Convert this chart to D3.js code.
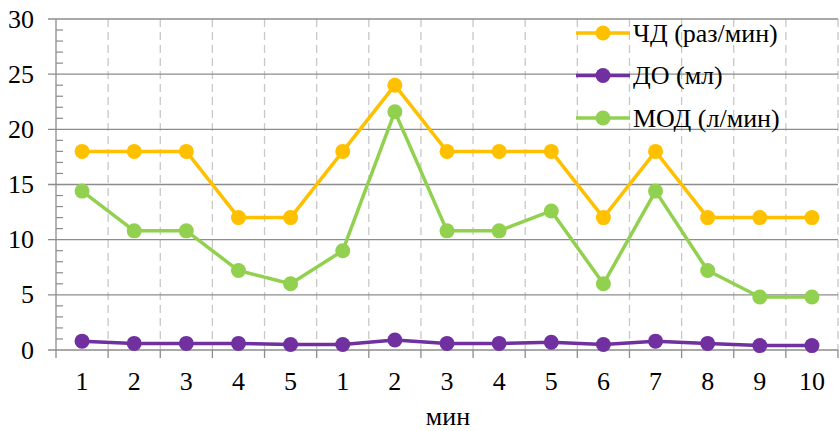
<!DOCTYPE html>
<html>
<head>
<meta charset="utf-8">
<script src="https://cdn.jsdelivr.net/npm/d3@7"></script>
<style>
  html, body { margin: 0; padding: 0; background: #fff; }
  svg { display: block; }
</style>
</head>
<body>
<svg id="chart" width="839" height="431"></svg>
<script>
// Minute labels along the x axis (two consecutive recording phases)
const categories = ["1", "2", "3", "4", "5", "1", "2", "3", "4", "5", "6", "7", "8", "9", "10"];

// Respiratory rate, breaths per minute
const rateValues = [18, 18, 18, 12, 12, 18, 24, 18, 18, 18, 12, 18, 12, 12, 12];
// Tidal volume
const tidalValues = [0.8, 0.6, 0.6, 0.6, 0.5, 0.5, 0.9, 0.6, 0.6, 0.7, 0.5, 0.8, 0.6, 0.4, 0.4];
// Minute ventilation, l/min
const minuteValues = [14.4, 10.8, 10.8, 7.2, 6.0, 9.0, 21.6, 10.8, 10.8, 12.6, 6.0, 14.4, 7.2, 4.8, 4.8];

const seriesNames = ["ЧД (раз/мин)", "ДО (мл)", "МОД (л/мин)"];
const seriesColors = ["#FFC000", "#7030A0", "#92D050"];
const yTicks = [0, 5, 10, 15, 20, 25, 30];
const xTitle = "мин";

const series = [
  { name: seriesNames[0], color: seriesColors[0], values: rateValues },
  { name: seriesNames[1], color: seriesColors[1], values: tidalValues },
  { name: seriesNames[2], color: seriesColors[2], values: minuteValues }
];

const FONT = "'Liberation Serif'";
const FS = 26;

const svg = d3.select("#chart");
const plotLeft = 56, plotRight = 838, plotTop = 19, plotBottom = 350;

const idx = d3.range(categories.length);
const x = d3.scaleBand().domain(idx).range([plotLeft, plotRight]).padding(0);
const xc = i => x(i) + x.bandwidth() / 2;
const xEdge = i => i < categories.length ? x(i) : plotRight;
const y = d3.scaleLinear().domain([0, 30]).range([plotBottom, plotTop]);

const label = sel => sel.style("font-family", FONT).attr("font-size", FS).attr("fill", "#000");

const grid = svg.append("g");

// dashed vertical lines between categories
grid.selectAll("line.v").data(d3.range(1, categories.length + 1)).enter()
  .append("line")
  .attr("x1", xEdge).attr("x2", xEdge)
  .attr("y1", plotTop).attr("y2", plotBottom)
  .attr("stroke", "#c8c8c8").attr("stroke-width", 1.3)
  .attr("stroke-dasharray", "8,5");

// major horizontal gridlines with outward ticks
grid.selectAll("line.h").data(yTicks).enter()
  .append("line")
  .attr("x1", plotLeft - 8).attr("x2", plotRight)
  .attr("y1", d => y(d)).attr("y2", d => y(d))
  .attr("stroke", "#8c8c8c").attr("stroke-width", 1.3);

// minor ticks on the value axis
grid.selectAll("line.m").data(d3.range(0, 31).filter(d => d % 5 !== 0)).enter()
  .append("line")
  .attr("x1", plotLeft).attr("x2", plotLeft + 7)
  .attr("y1", d => y(d)).attr("y2", d => y(d))
  .attr("stroke", "#8c8c8c").attr("stroke-width", 1.2);

// value axis line
grid.append("line")
  .attr("x1", plotLeft).attr("x2", plotLeft).attr("y1", plotTop).attr("y2", plotBottom)
  .attr("stroke", "#8c8c8c").attr("stroke-width", 1.3);

// category ticks below the axis
grid.selectAll("line.xt").data(d3.range(0, categories.length + 1)).enter()
  .append("line")
  .attr("x1", xEdge).attr("x2", xEdge)
  .attr("y1", plotBottom).attr("y2", plotBottom + 8)
  .attr("stroke", "#8c8c8c").attr("stroke-width", 1.3);

// y tick labels
svg.append("g").selectAll("text").data(yTicks).enter()
  .append("text")
  .attr("x", 34).attr("y", d => y(d))
  .attr("dy", "0.33em")
  .attr("text-anchor", "end")
  .call(label)
  .text(d => d);

// x tick labels
svg.append("g").selectAll("text").data(idx).enter()
  .append("text")
  .attr("x", i => xc(i)).attr("y", 390)
  .attr("text-anchor", "middle")
  .call(label)
  .text(i => categories[i]);

// x axis title
svg.append("text")
  .attr("x", 448).attr("y", 425)
  .attr("text-anchor", "middle")
  .call(label)
  .text(xTitle);

// series lines and markers
const line = d3.line().x((d, i) => xc(i)).y(d => y(d));
series.forEach(s => {
  const g = svg.append("g");
  g.append("path")
    .attr("d", line(s.values))
    .attr("fill", "none")
    .attr("stroke", s.color)
    .attr("stroke-width", 3.5)
    .attr("stroke-linejoin", "round");
  g.selectAll("circle").data(s.values).enter()
    .append("circle")
    .attr("cx", (d, i) => xc(i))
    .attr("cy", d => y(d))
    .attr("r", 7.5)
    .attr("fill", s.color);
});

// legend
const legend = svg.append("g");
series.forEach((s, k) => {
  const ly = 33 + k * 42.5;
  legend.append("line")
    .attr("x1", 576).attr("x2", 630).attr("y1", ly).attr("y2", ly)
    .attr("stroke", s.color).attr("stroke-width", 3.5);
  legend.append("circle")
    .attr("cx", 603).attr("cy", ly).attr("r", 7.5).attr("fill", s.color);
  legend.append("text")
    .attr("x", 633).attr("y", ly).attr("dy", "0.33em")
    .call(label)
    .text(s.name);
});
</script>
</body>
</html>
